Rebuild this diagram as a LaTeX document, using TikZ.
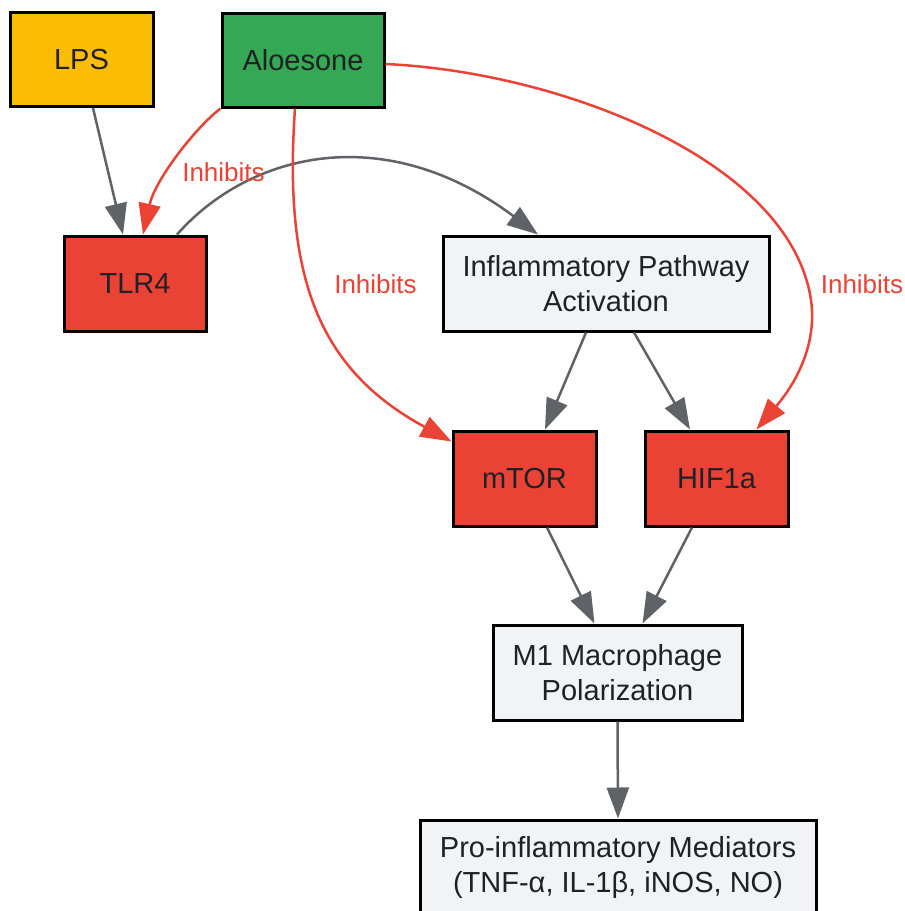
\documentclass[tikz,border=0pt]{standalone}
\usepackage{fontspec}
\setmainfont{Liberation Sans}
\usetikzlibrary{arrows.meta,calc}
\definecolor{gred}{HTML}{EA4335}
\definecolor{ggreen}{HTML}{34A853}
\definecolor{gyellow}{HTML}{FBBC04}
\definecolor{glight}{HTML}{F1F3F4}
\definecolor{gedge}{HTML}{5F6368}
\definecolor{gtext}{HTML}{202124}
\begin{document}
\begin{tikzpicture}[x=1pt,y=-1pt,
  box/.style={draw=black,line width=3pt,rectangle,inner sep=0pt,align=center,
    text=gtext,font=\fontsize{29}{35.5}\selectfont},
  gflow/.style={draw=gedge,line width=2.5pt,-{Triangle[length=31pt,width=22pt]}},
  rflow/.style={draw=gred,line width=2.5pt,-{Triangle[length=31pt,width=22pt]}},
  lbl/.style={text=gred,font=\fontsize{26}{30}\selectfont,inner sep=0pt}]
\useasboundingbox[fill=white] (0,0) rectangle (905,911);
% nodes
\node[box,fill=gyellow,minimum width=143pt,minimum height=94pt] (lps) at (81.5,59.5) {LPS};
\node[box,fill=ggreen,minimum width=162pt,minimum height=94pt] (aloe) at (303,60) {Aloesone};
\node[box,fill=gred,minimum width=142pt,minimum height=95pt] (tlr4) at (135,283.5) {TLR4};
\node[box,fill=glight,minimum width=326pt,minimum height=95pt] (infl) at (606,283.5) {Inflammatory Pathway\\Activation};
\node[box,fill=gred,minimum width=143pt,minimum height=95pt] (mtor) at (524.5,478.5) {mTOR};
\node[box,fill=gred,minimum width=143pt,minimum height=95pt] (hif) at (716.5,478.5) {HIF1a};
\node[box,fill=glight,minimum width=249pt,minimum height=95pt] (m1) at (617.5,672.5) {M1 Macrophage\\Polarization};
\node[box,fill=glight,minimum width=396pt,minimum height=95pt] (pro) at (618,867.5) {Pro-inflammatory Mediators\\(TNF-α, IL-1β, iNOS, NO)};
% edges
\draw[gflow] ([xshift=11.5pt]lps.south) -- ([xshift=-12pt]tlr4.north);
\draw[rflow] (aloe.south west) .. controls (195,128) and (155,180) .. ([xshift=8pt]tlr4.north);
\draw[gflow] ([xshift=42pt]tlr4.north) .. controls (250,152) and (385,120) .. ([xshift=-68pt]infl.north);
\draw[rflow] ([xshift=-8pt]aloe.south) .. controls (283,280) and (320,370) .. ([yshift=-12pt]mtor.north west);
\draw[rflow] ([yshift=-4pt]aloe.east) .. controls (560,72) and (790,160) .. (811,300)
  .. controls (818,350) and (790,390) .. ([xshift=40pt]hif.north);
\draw[gflow] ([xshift=-20pt]infl.south) -- ([xshift=20.5pt]mtor.north);
\draw[gflow] ([xshift=28pt]infl.south) -- ([xshift=-26.5pt]hif.north);
\draw[gflow] ([xshift=22.5pt]mtor.south) -- ([xshift=-23pt]m1.north);
\draw[gflow] ([xshift=-24.5pt]hif.south) -- ([xshift=25pt]m1.north);
\draw[gflow] (m1.south) -- (pro.north);
% labels
\node[lbl] (l1) at (223.5,172) {Inhibits};
\node[lbl] (l2) at (375.5,284) {Inhibits};
\node[lbl] (l3) at (862,284) {Inhibits};
\end{tikzpicture}
\end{document}
